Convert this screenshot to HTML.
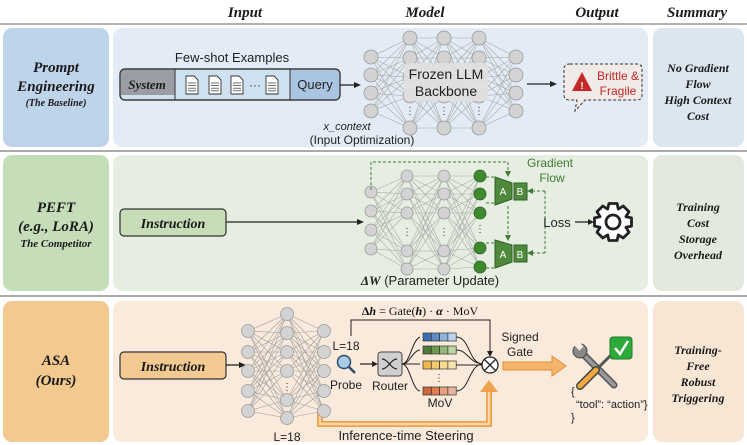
<!DOCTYPE html>
<html><head><meta charset="utf-8">
<style>
html,body{margin:0;padding:0;background:#fff;}
svg{display:block;font-family:"Liberation Sans",sans-serif;}
.t{font-family:"Liberation Serif",serif;font-weight:bold;font-style:italic;fill:#1a1a1a;}
</style></head><body>
<svg id="s" width="747" height="445" viewBox="0 0 747 445" xmlns="http://www.w3.org/2000/svg">
<rect width="747" height="445" fill="#fff"/>
<text class="t" x="245" y="17" font-size="15" text-anchor="middle">Input</text>
<text class="t" x="425" y="17" font-size="15" text-anchor="middle">Model</text>
<text class="t" x="597" y="17" font-size="15" text-anchor="middle">Output</text>
<text class="t" x="697" y="17" font-size="15" text-anchor="middle">Summary</text>
<line x1="0" y1="24" x2="747" y2="24" stroke="#999" stroke-width="1.5"/>
<line x1="0" y1="151" x2="747" y2="151" stroke="#aaa" stroke-width="2"/>
<line x1="0" y1="296" x2="747" y2="296" stroke="#aaa" stroke-width="2"/>

<rect x="3" y="28" width="106" height="119" rx="9" fill="#bed4eb"/>
<rect x="113" y="28" width="535" height="119" rx="9" fill="#e3ecf6"/>
<rect x="653" y="28" width="91" height="119" rx="9" fill="#dce6f1"/>
<rect x="3" y="155" width="106" height="136" rx="9" fill="#c6ddb9"/>
<rect x="113" y="155" width="535" height="136" rx="9" fill="#e6eee1"/>
<rect x="653" y="155" width="91" height="136" rx="9" fill="#e3eadd"/>
<rect x="3" y="301" width="106" height="141" rx="9" fill="#f2c98f"/>
<rect x="113" y="301" width="535" height="141" rx="9" fill="#f9eadc"/>
<rect x="653" y="301" width="91" height="141" rx="9" fill="#f8e6d5"/>

<text class="t" text-anchor="middle" font-size="15"><tspan x="56" y="72">Prompt</tspan><tspan x="56" y="91">Engineering</tspan></text>
<text class="t" x="56" y="106" font-size="10" text-anchor="middle">(The Baseline)</text>
<text class="t" text-anchor="middle" font-size="15"><tspan x="56" y="212">PEFT</tspan><tspan x="56" y="231">(e.g., LoRA)</tspan></text>
<text class="t" x="56" y="247" font-size="11" text-anchor="middle">The Competitor</text>
<text class="t" text-anchor="middle" font-size="15"><tspan x="56" y="365">ASA</tspan><tspan x="56" y="385">(Ours)</tspan></text>
<text class="t" text-anchor="middle" font-size="12"><tspan x="698" y="72">No Gradient</tspan><tspan x="698" y="88">Flow</tspan><tspan x="698" y="104">High Context</tspan><tspan x="698" y="120">Cost</tspan></text>
<text class="t" text-anchor="middle" font-size="12"><tspan x="698" y="211">Training</tspan><tspan x="698" y="227">Cost</tspan><tspan x="698" y="243">Storage</tspan><tspan x="698" y="259">Overhead</tspan></text>
<text class="t" text-anchor="middle" font-size="12"><tspan x="698" y="354">Training-</tspan><tspan x="698" y="370">Free</tspan><tspan x="698" y="386">Robust</tspan><tspan x="698" y="402">Triggering</tspan></text>

<text x="232" y="62" font-size="13" text-anchor="middle" fill="#222">Few-shot Examples</text>
<rect x="120" y="69" width="220" height="31" rx="5" fill="#cfe0f0" stroke="#333" stroke-width="1.2"/>
<path d="M125 69 H175 V95 H120 V74 Q120 69 125 69Z" fill="#9a9ea4"/>
<rect x="290" y="70" width="49" height="29" fill="#a9c5e2"/>
<line x1="175" y1="69" x2="175" y2="100" stroke="#333"/>
<line x1="290" y1="69" x2="290" y2="100" stroke="#333"/>
<rect x="120" y="69" width="220" height="31" rx="5" fill="none" stroke="#333" stroke-width="1.2"/>
<text class="t" x="147" y="89" font-size="13" text-anchor="middle">System</text>
<text x="315" y="89" font-size="13" text-anchor="middle" fill="#222">Query</text>
<g id="docs" fill="#fff" stroke="#333" stroke-width="0.9"></g>
<text x="255" y="89" font-size="12" text-anchor="middle" fill="#333">···</text>
<line x1="340" y1="85" x2="355" y2="85" stroke="#222" stroke-width="1.3"/>
<path d="M361 85 L354 82 L354 88Z" fill="#222"/>
<text x="347" y="130" font-size="11" font-style="italic" text-anchor="middle" fill="#222">x_context</text>
<text x="362" y="144" font-size="12" text-anchor="middle" fill="#222">(Input Optimization)</text>

<g id="net1"></g>
<rect x="404" y="63" width="84" height="38" rx="4" fill="#e0e0e0" opacity="0.92"/>
<text x="446" y="79" font-size="14" text-anchor="middle" fill="#222">Frozen LLM</text>
<text x="446" y="96" font-size="14" text-anchor="middle" fill="#222">Backbone</text>
<line x1="527" y1="84" x2="550" y2="84" stroke="#222" stroke-width="1.3"/>
<path d="M557 84 L550 81 L550 87Z" fill="#222"/>
<path d="M570 64 H637 Q642 64 642 69 V95 Q642 100 637 100 H585 L575 111 L577 100 H570 Q564 100 564 95 V69 Q564 64 570 64Z" fill="#f1ebe8" stroke="#333" stroke-width="1" stroke-dasharray="3,2"/>
<path d="M582 72 L592 91 L572 91Z" fill="#c62828"/>
<text x="582" y="89" font-size="10" font-weight="bold" text-anchor="middle" fill="#fff">!</text>
<text x="618" y="80" font-size="12" text-anchor="middle" fill="#c62828">Brittle &amp;</text>
<text x="618" y="95" font-size="12" text-anchor="middle" fill="#c62828">Fragile</text>

<rect x="120" y="209" width="106" height="27" rx="4" fill="#c6ddb7" stroke="#333" stroke-width="1.2"/>
<text class="t" x="173" y="228" font-size="14" text-anchor="middle">Instruction</text>
<line x1="226" y1="222" x2="357" y2="222" stroke="#222" stroke-width="1.3"/>
<path d="M364 222 L357 219 L357 225Z" fill="#222"/>
<g id="net2"></g>
<g fill="none" stroke="#3f7a35" stroke-width="1" stroke-dasharray="3,2">
<path d="M371 190 V162 H508 V172"/>
<path d="M508 206 V236"/>
<path d="M545 191 V253"/>
<path d="M545 191 H531 M545 253 H531"/>
<path d="M486 177 H496 M486 203 H496 M486 243 H496 M486 268 H496"/>
</g>
<path d="M508 177 L505 171 L511 171Z M508 241 L505 235 L511 235Z M527 191 L533 188 L533 194Z M527 253 L533 250 L533 256Z" fill="#3f7a35"/>
<path d="M495 177 L512 183 L512 199 L495 205Z" fill="#4f8a3c" stroke="#2f5f27"/>
<rect x="514" y="183" width="13" height="17" fill="#4f8a3c" stroke="#2f5f27"/>
<path d="M495 240 L512 245 L512 262 L495 268Z" fill="#4f8a3c" stroke="#2f5f27"/>
<rect x="514" y="245" width="13" height="17" fill="#4f8a3c" stroke="#2f5f27"/>
<g font-size="10" fill="#fff" text-anchor="middle"><text x="503" y="195">A</text><text x="520" y="195">B</text><text x="503" y="258">A</text><text x="520" y="258">B</text></g>
<text x="550" y="167" font-size="12" text-anchor="middle" fill="#3f7a35">Gradient</text>
<text x="552" y="182" font-size="12" text-anchor="middle" fill="#3f7a35">Flow</text>
<text x="557" y="227" font-size="13" text-anchor="middle" fill="#222">Loss</text>
<line x1="575" y1="222" x2="588" y2="222" stroke="#222" stroke-width="1.3"/>
<path d="M594 222 L588 219 L588 225Z" fill="#222"/>
<g id="gear"></g>
<text x="430" y="285" font-size="13" text-anchor="middle" fill="#222"><tspan font-weight="bold" font-style="italic" font-family="Liberation Serif">ΔW</tspan> (Parameter Update)</text>

<rect x="120" y="352" width="106" height="27" rx="4" fill="#f2c990" stroke="#333" stroke-width="1.2"/>
<text class="t" x="173" y="371" font-size="14" text-anchor="middle">Instruction</text>
<line x1="226" y1="365" x2="240" y2="365" stroke="#222" stroke-width="1.3"/>
<path d="M246 365 L239 362 L239 368Z" fill="#222"/>
<path d="M320 409 V424 H489 V390" fill="none" stroke="#f0a24a" stroke-width="6"/>
<path d="M320 409 V424 H489 V390" fill="none" stroke="#fbd6a6" stroke-width="2.5"/>
<path d="M480 392 L489 380 L498 392Z" fill="#f0a24a"/>
<g id="net3"></g>
<text x="287" y="441" font-size="12" text-anchor="middle" fill="#222">L=18</text>
<text x="406" y="440" font-size="13" text-anchor="middle" fill="#222">Inference-time Steering</text>
<text x="420" y="315" font-size="12" text-anchor="middle" font-family="Liberation Serif" fill="#111"><tspan font-weight="bold">Δ<tspan font-style="italic">h</tspan></tspan> = Gate(<tspan font-weight="bold" font-style="italic">h</tspan>) · <tspan font-weight="bold" font-style="italic">α</tspan> · MoV</text>
<path d="M351 336 V320 H490 V352" fill="none" stroke="#222" stroke-width="1"/>
<path d="M490 357 L487 351 L493 351Z" fill="#222"/>
<text x="346" y="350" font-size="12" text-anchor="middle" fill="#222">L=18</text>
<circle cx="344" cy="362" r="6.5" fill="#a7cbe8" stroke="#2e4a66" stroke-width="1.5"/>
<line x1="349" y1="367" x2="355" y2="373" stroke="#2e4a66" stroke-width="2.5"/>
<text x="346" y="389" font-size="12" text-anchor="middle" fill="#222">Probe</text>
<line x1="360" y1="364" x2="372" y2="364" stroke="#222" stroke-width="1.2"/>
<path d="M378 364 L372 361 L372 367Z" fill="#222"/>
<rect x="378" y="352" width="24" height="24" rx="3" fill="#cfcfcf" stroke="#444"/>
<path d="M382 359 C388 359 391 369 397 369 M382 369 C388 369 391 359 397 359" fill="none" stroke="#222" stroke-width="1.2"/>
<text x="390" y="390" font-size="12" text-anchor="middle" fill="#222">Router</text>
<g fill="none" stroke="#222" stroke-width="1">
<path d="M402 364 C410 364 412 340 420 337"/><path d="M402 364 C410 364 412 351 420 350"/><path d="M402 364 H420"/><path d="M402 364 C410 364 412 390 420 391"/>
<path d="M456 337 C470 337 468 362 482 364"/><path d="M456 350 C468 350 468 362 482 364"/><path d="M456 365 H482"/><path d="M456 391 C470 391 468 366 482 364"/>
</g>
<g id="mov"></g>
<text x="439" y="381" font-size="10" text-anchor="middle" fill="#333">⋮</text>
<text x="440" y="407" font-size="12" text-anchor="middle" fill="#222">MoV</text>
<circle cx="490" cy="365" r="8" fill="#fff" stroke="#222" stroke-width="1.3"/>
<path d="M484.5 359.5 L495.5 370.5 M495.5 359.5 L484.5 370.5" stroke="#222" stroke-width="1.3"/>
<text x="520" y="341" font-size="12" text-anchor="middle" fill="#222">Signed</text>
<text x="520" y="356" font-size="12" text-anchor="middle" fill="#222">Gate</text>
<path d="M503 362 H552 V356 L566 366 L552 376 V370 H503Z" fill="#f4b46b" stroke="#e08e35"/>
<g transform="translate(600,366)">
<path d="M-20 -15 L14 19" stroke="#555" stroke-width="7" stroke-linecap="round"/>
<path d="M-20 -15 L14 19" stroke="#999" stroke-width="4" stroke-linecap="round"/>
<circle cx="-20" cy="-15" r="7" fill="#888" stroke="#444"/>
<rect x="-25" y="-26" width="6" height="10" fill="#f9eadc" transform="rotate(-45 -22 -21)"/>
<path d="M12 -12 L-5 5" stroke="#555" stroke-width="3"/>
<path d="M-4 4 L-20 20" stroke="#444" stroke-width="8" stroke-linecap="round"/>
<path d="M-4 4 L-20 20" stroke="#f0a83c" stroke-width="5" stroke-linecap="round"/>
</g>
<rect x="610" y="337" width="22" height="22" rx="3" fill="#2eaa3a" stroke="#1f7a28"/>
<path d="M615 348 L620 354 L628 341" fill="none" stroke="#fff" stroke-width="2.5"/>
<text font-size="11" fill="#222"><tspan x="571" y="395">{</tspan><tspan x="576" y="408">“tool”: “action”}</tspan><tspan x="571" y="421">}</tspan></text>
</svg>
<script>
(function(){
var NS="http://www.w3.org/2000/svg";
function el(p,n,a){var e=document.createElementNS(NS,n);for(var k in a)e.setAttribute(k,a[k]);p.appendChild(e);return e;}
function net(g,cols,r,fills,ec){
 var gg=document.getElementById(g);
 for(var i=0;i<cols.length-1;i++){var A=cols[i],B=cols[i+1];
  A.y.forEach(function(a){B.y.forEach(function(b){el(gg,"line",{x1:A.x,y1:a,x2:B.x,y2:b,stroke:ec,"stroke-width":0.6});});});}
 cols.forEach(function(c,i){c.y.forEach(function(y){el(gg,"circle",{cx:c.x,cy:y,r:r,fill:fills[i][0],stroke:fills[i][1],"stroke-width":0.8});});
  if(c.d){var t=el(gg,"text",{x:c.x,y:c.d,"font-size":10,"text-anchor":"middle",fill:"#333"});t.textContent="⋮";}});
}
var g=["#d3d3d3","#9a9a9a"],gr=["#3f8a2f","#2b5f20"];
net("net1",[{x:371,y:[57,75,93,111]},{x:410,y:[38,58,77,96,128],d:114},{x:444,y:[38,58,77,96,128],d:114},{x:479,y:[38,58,77,96,128],d:114},{x:516,y:[57,75,93,111]}],7,[g,g,g,g,g],"#a8a8a8");
net("net2",[{x:371,y:[192,211,230,249]},{x:407,y:[176,194,213,251,269],d:235},{x:444,y:[176,194,213,251,269],d:235},{x:480,y:[176,194,213,248,267],d:232}],6,[g,g,g,gr],"#aaaaaa");
net("net3",[{x:248,y:[331,352,371,391,411]},{x:287,y:[314,333,352,371,400,418],d:390},{x:324,y:[331,352,371,391,411]}],6.5,[g,g,g],"#a0a0a0");
var d=document.getElementById("docs");
[192,215,237,272].forEach(function(x){el(d,"path",{d:"M"+(x-6)+" 76 h8 l4 4 v14 h-12z"});
 for(var k=0;k<4;k++)el(d,"line",{x1:x-4,y1:83+k*2.6,x2:x+4,y2:83+k*2.6,"stroke-width":0.7});});
var m=document.getElementById("mov");
[[333,["#3d6fb0","#5d8cc6","#8fb3dd","#bcd3ee"]],[346,["#4d7a36","#6e9a4f","#94b87a","#bcd5a6"]],[361,["#f0b94a","#f5cb6e","#f8d98f","#fae4ae"]],[387,["#d0643a","#e07e52","#e9a07f","#eab5a0"]]].forEach(function(r){
 r[1].forEach(function(c,i){el(m,"rect",{x:423+i*8.3,y:r[0],width:8.3,height:8,fill:c,stroke:"#333","stroke-width":0.7});});});
var gear=document.getElementById("gear");var p="";var cx=613,cy=222,R1=19,R2=14;
for(var i=0;i<8;i++){var a=i*Math.PI/4;var w=0.22;
 [[a-0.39,R2],[a-w,R1],[a+w,R1],[a+0.39,R2]].forEach(function(q,j){p+=(i==0&&j==0?"M":"L")+(cx+q[1]*Math.cos(q[0])).toFixed(1)+" "+(cy+q[1]*Math.sin(q[0])).toFixed(1)+" ";});}
p+="Z";el(gear,"path",{d:p,fill:"#fff",stroke:"#222","stroke-width":2.8,"stroke-linejoin":"round"});
el(gear,"circle",{cx:cx,cy:cy,r:7,fill:"#fff",stroke:"#222","stroke-width":2.8});
})();
</script>
</body></html>
